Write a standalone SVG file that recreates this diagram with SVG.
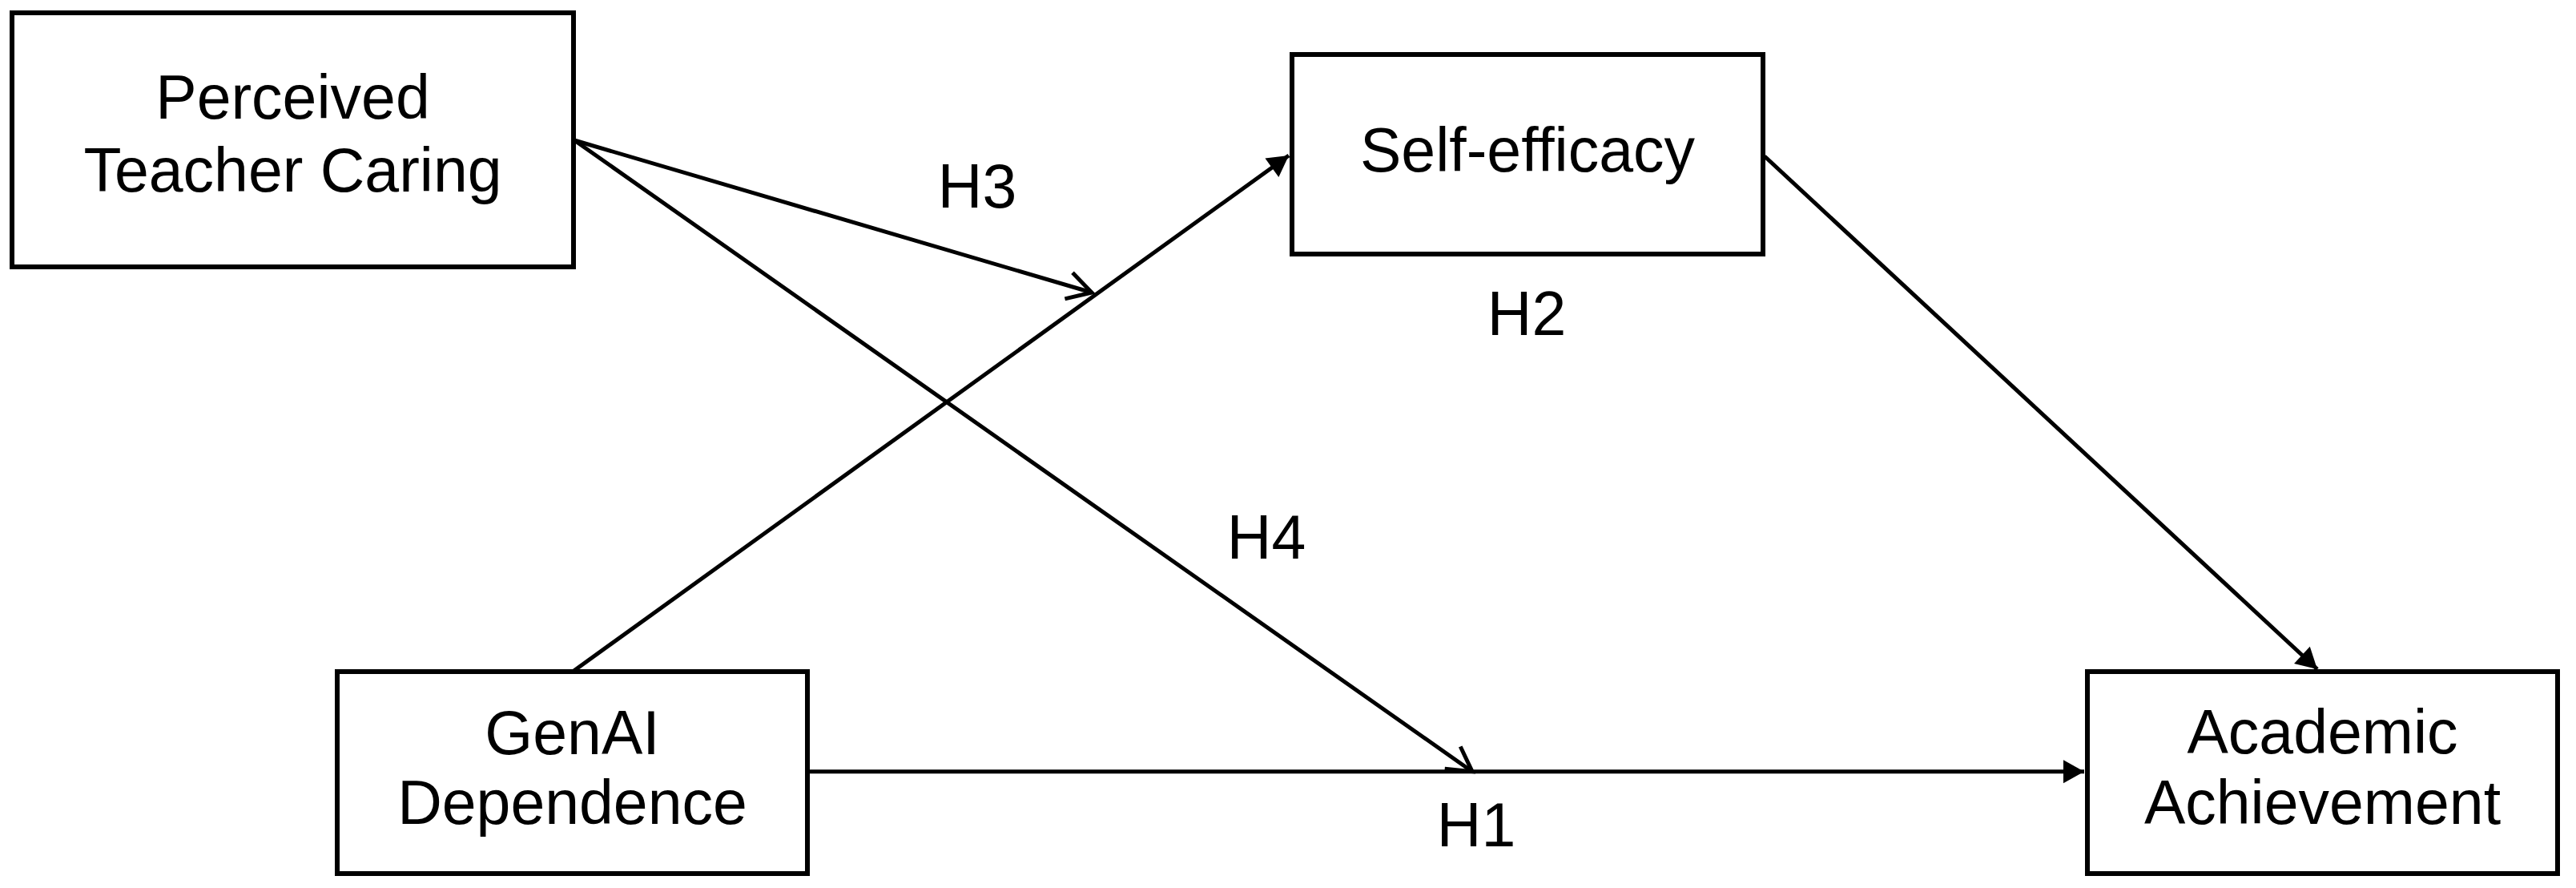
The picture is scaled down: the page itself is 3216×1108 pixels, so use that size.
<svg xmlns="http://www.w3.org/2000/svg" width="3216" height="1108" viewBox="0 0 3216 1108">
<style>
.box{fill:#fff;stroke:#000;stroke-width:6}
.t{font-family:"Liberation Sans",Arial,Helvetica,sans-serif;font-size:77px;fill:#000;text-anchor:middle}
.c{fill:none;stroke:#000;stroke-width:5}
</style>
<defs>
<marker id="fill" markerUnits="userSpaceOnUse" markerWidth="30" markerHeight="30" refX="26" refY="14.5" orient="auto" overflow="visible"><path d="M0,0 L26,14.5 L0,29 z" fill="#000"/></marker>
<marker id="open" markerUnits="userSpaceOnUse" markerWidth="40" markerHeight="40" refX="30" refY="17" orient="auto" overflow="visible"><path d="M0,0 L30,17 L0,34" fill="none" stroke="#000" stroke-width="5"/></marker>
</defs>
<rect width="3216" height="1108" fill="#fff"/>
<g id="connectors">
<line class="c" x1="717" y1="175" x2="1363" y2="365" marker-end="url(#open)"/>
<line class="c" x1="717" y1="175" x2="1838" y2="962.7" marker-end="url(#open)"/>
<line class="c" x1="715" y1="838" x2="1609" y2="194" marker-end="url(#fill)"/>
<line class="c" x1="2203" y1="195" x2="2893" y2="835" marker-end="url(#fill)"/>
<line class="c" x1="1008" y1="962.7" x2="2602" y2="962.7" marker-end="url(#fill)"/>
<text class="t" x="1220" y="259">H3</text>
<text class="t" x="1906" y="418">H2</text>
<text class="t" x="1581" y="697">H4</text>
<text class="t" x="1843" y="1056">H1</text>
</g>
<g id="ptc">
<rect class="box" x="15" y="16" width="701" height="317"/>
<text class="t" x="365.5" y="148">Perceived</text>
<text class="t" x="365.5" y="239">Teacher Caring</text>
</g>
<g id="se">
<rect class="box" x="1613" y="68" width="588" height="249"/>
<text class="t" x="1907" y="214">Self-efficacy</text>
</g>
<g id="gad">
<rect class="box" x="421" y="838" width="587" height="252"/>
<text class="t" x="714.5" y="941">GenAI</text>
<text class="t" x="714.5" y="1028">Dependence</text>
</g>
<g id="aa">
<rect class="box" x="2606" y="838" width="587" height="252"/>
<text class="t" x="2899.5" y="940">Academic</text>
<text class="t" x="2899.5" y="1028">Achievement</text>
</g>
</svg>
